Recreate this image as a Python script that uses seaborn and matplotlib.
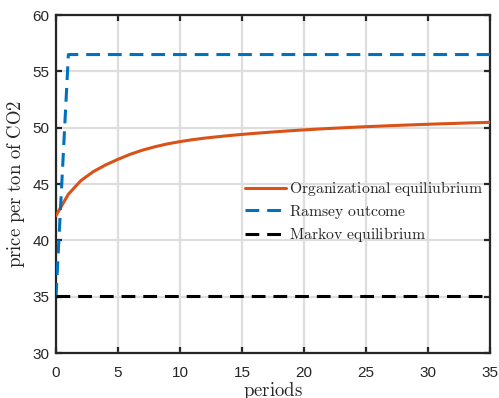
import numpy as np
import pandas as pd
import matplotlib
matplotlib.use("Agg")
import matplotlib.pyplot as plt
import seaborn as sns

# Carbon price paths over 35 periods
periods = list(range(36))
organizational = [42.2, 44.1, 45.3, 46.1, 46.7, 47.2, 47.65, 48.02, 48.32, 48.57,
                  48.77, 48.94, 49.08, 49.2, 49.31, 49.41, 49.5, 49.585, 49.665, 49.74,
                  49.81, 49.875, 49.935, 49.99, 50.045, 50.095, 50.14, 50.185, 50.23, 50.27,
                  50.31, 50.35, 50.38, 50.42, 50.45, 50.48]
ramsey = [35.0] + [56.5] * 35
markov = [35.1] * 36

series_names = ["Organizational equiliubrium", "Ramsey outcome", "Markov equilibrium"]
series_values = [organizational, ramsey, markov]
series_colors = ["#D95319", "#0072BD", "#000000"]

xticks = [0, 5, 10, 15, 20, 25, 30, 35]
yticks = [30, 35, 40, 45, 50, 55, 60]

sns.set_theme(style="white")
plt.rcParams["font.family"] = ["Liberation Sans", "DejaVu Sans"]
plt.rcParams["mathtext.fontset"] = "cm"

axis_col = "#262626"

fig = plt.figure(figsize=(4.99, 3.98), dpi=100)
ax = fig.add_axes([0.1122, 0.113, 0.8698, 0.849])

frames = []
for name, vals in zip(series_names, series_values):
    frames.append(pd.DataFrame({"period": periods, "price": vals,
                                "series": r"$\mathrm{" + name.replace(" ", r"\ ") + "}$"}))
df = pd.concat(frames, ignore_index=True)
labels = df["series"].unique().tolist()

sns.lineplot(data=df, x="period", y="price", hue="series", style="series",
             palette=dict(zip(labels, series_colors)),
             dashes=dict(zip(labels, ["", (4.5, 2.6), (4.5, 2.6)])),
             linewidth=2.2, ax=ax, legend=True, zorder=3)

ax.set_xlim(0, 35)
ax.set_ylim(30, 60)
ax.set_xticks(xticks)
ax.set_yticks(yticks)
ax.grid(True, color="#DEDEDE", linewidth=1.6, zorder=0)
ax.set_axisbelow(True)

for sp in ax.spines.values():
    sp.set_color(axis_col)
    sp.set_linewidth(1.6)
    sp.set_visible(True)

ax.tick_params(axis="both", which="both", direction="in", length=4.5, width=1.6,
               color=axis_col, labelcolor=axis_col, labelsize=11,
               top=True, right=True, bottom=True, left=True)
ax.tick_params(axis="x", pad=9)
ax.tick_params(axis="y", pad=4.5)

ax.set_xlabel(r"$\mathrm{periods}$", fontsize=13.5, color=axis_col, labelpad=0)
ax.set_ylabel(r"$\mathrm{price\ per\ ton\ of\ CO2}$", fontsize=13.5, color=axis_col, labelpad=4)

handles, lbls = ax.get_legend_handles_labels()
leg = ax.legend(handles, lbls, loc="center left", bbox_to_anchor=(0.4365, 0.418),
                frameon=False, fontsize=11.3, handlelength=2.6, handletextpad=0.2,
                labelspacing=0.3, borderaxespad=0, borderpad=0)
for t in leg.get_texts():
    t.set_color(axis_col)

fig.savefig("out.png", dpi=100)
